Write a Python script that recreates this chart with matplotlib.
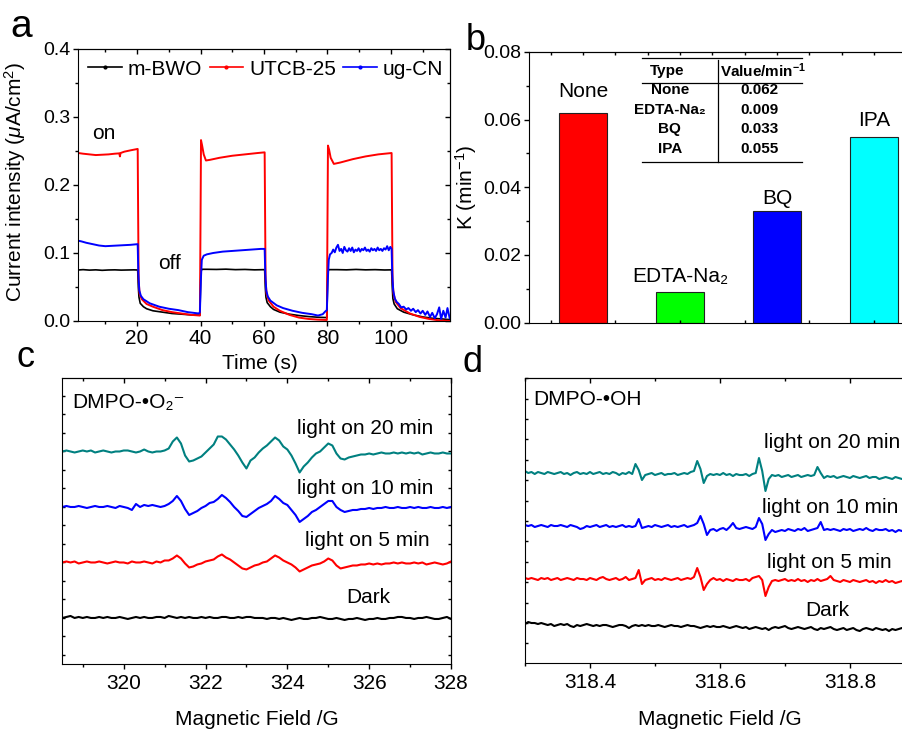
import numpy as np
import matplotlib
matplotlib.use('Agg')
import matplotlib.pyplot as plt
from matplotlib.lines import Line2D
from matplotlib.ticker import FixedLocator, MultipleLocator, FormatStrFormatter

plt.rcParams['font.family'] = ['Liberation Sans', 'DejaVu Sans']
plt.rcParams['mathtext.fontset'] = 'custom'
plt.rcParams['mathtext.rm'] = 'Liberation Sans'
plt.rcParams['mathtext.it'] = 'Liberation Sans:italic'
plt.rcParams['mathtext.bf'] = 'Liberation Sans:bold'

# ---------------- panel a: photocurrent ----------------
t_bwo = [1.5, 3, 5, 7, 9, 11, 13, 15, 17, 19, 20.2,
         20.4, 20.6, 21, 22, 23, 25, 28, 31, 34, 37, 39.8,
         40.1, 40.4, 42, 45, 48, 51, 54, 57, 60.2,
         60.4, 60.6, 61, 62, 63, 65, 68, 71, 74, 77, 79.8,
         80.1, 80.4, 83, 86, 89, 92, 95, 98, 100.2,
         100.4, 100.6, 101, 102, 104, 107, 110, 113, 116, 118.5]
i_bwo = [0.075, 0.0755, 0.0748, 0.0752, 0.0745, 0.075, 0.0752, 0.0748, 0.075, 0.0752, 0.075,
         0.05, 0.035, 0.026, 0.021, 0.018, 0.015, 0.013, 0.011, 0.010, 0.009, 0.0085,
         0.072, 0.076, 0.076, 0.0758, 0.0762, 0.0755, 0.0758, 0.0752, 0.0755,
         0.05, 0.035, 0.027, 0.021, 0.017, 0.013, 0.010, 0.008, 0.0065, 0.0055, 0.005,
         0.072, 0.0755, 0.0755, 0.0752, 0.0758, 0.0752, 0.0755, 0.075, 0.0752,
         0.05, 0.033, 0.025, 0.018, 0.013, 0.009, 0.006, 0.004, 0.003, 0.002]

t_utcb = [1.5, 3, 5, 7, 9, 11, 13, 14.4, 14.6, 14.8, 16, 18, 20.2,
          20.35, 20.5, 20.8, 21.5, 23, 25, 28, 31, 34, 37, 39.8,
          40.0, 40.15, 40.5, 41, 41.7, 43, 46, 50, 54, 58, 60.2,
          60.35, 60.5, 60.8, 61.5, 63, 65, 68, 71, 74, 77, 79.8,
          80.0, 80.15, 80.5, 81, 82, 84, 88, 92, 96, 100.2,
          100.35, 100.5, 100.8, 101.5, 103, 106, 109, 112, 115, 118.5]
i_utcb = [0.247, 0.246, 0.245, 0.244, 0.2445, 0.245, 0.246, 0.2465, 0.242, 0.247, 0.249, 0.251, 0.253,
          0.15, 0.06, 0.04, 0.032, 0.025, 0.021, 0.016, 0.013, 0.011, 0.009, 0.008,
          0.15, 0.266, 0.258, 0.245, 0.236, 0.237, 0.240, 0.243, 0.245, 0.247, 0.248,
          0.15, 0.06, 0.04, 0.03, 0.021, 0.015, 0.009, 0.005, 0.003, 0.002, 0.0015,
          0.15, 0.258, 0.252, 0.240, 0.231, 0.233, 0.238, 0.242, 0.245, 0.247,
          0.15, 0.06, 0.04, 0.028, 0.019, 0.011, 0.006, 0.003, 0.001, 0.0]

t_ugcn = [1.5, 2.5, 4, 6, 8, 10, 12, 14, 16, 18, 20.2,
          20.4, 20.7, 21.2, 22, 24, 27, 30, 33, 36, 39.5, 39.8,
          40.1, 40.4, 41, 42, 44, 47, 50, 53, 56, 59, 60.2,
          60.4, 60.7, 61.2, 62, 64, 66, 69, 72, 75, 77, 78.5, 79.3, 79.8,
          80.1, 80.4, 80.8, 81.3, 81.8, 82.3, 82.8, 83.3, 83.8, 84.3, 84.8, 85.3, 85.8,
          86.3, 86.8, 87.3, 87.8, 88.3, 88.8, 89.3, 89.8, 90.3, 90.8, 91.3, 91.8, 92.3,
          92.8, 93.3, 93.8, 94.3, 94.8, 95.3, 95.8, 96.3, 96.8, 97.3, 97.8, 98.3, 98.8,
          99.3, 99.8, 100.2,
          100.4, 100.7, 101.2, 101.8, 102.5, 103.2, 104, 104.8, 105.5, 106.3, 107, 107.8,
          108.5, 109.3, 110, 110.8, 111.5, 112.3, 113, 113.8, 114.5, 115.2, 115.8, 116.5,
          117.2, 117.8, 118.5]
i_ugcn = [0.118, 0.117, 0.115, 0.113, 0.111, 0.110, 0.1105, 0.111, 0.1115, 0.112, 0.113,
          0.07, 0.045, 0.037, 0.032, 0.026, 0.021, 0.018, 0.016, 0.013, 0.011, 0.013,
          0.06, 0.09, 0.096, 0.098, 0.100, 0.102, 0.103, 0.104, 0.105, 0.106, 0.106,
          0.07, 0.045, 0.036, 0.030, 0.023, 0.019, 0.015, 0.012, 0.010, 0.008, 0.010, 0.014, 0.016,
          0.06, 0.09, 0.098, 0.100, 0.105, 0.101, 0.108, 0.112, 0.103, 0.106, 0.100, 0.109, 0.104,
          0.102, 0.107, 0.103, 0.108, 0.101, 0.105, 0.103, 0.107, 0.102, 0.106, 0.104, 0.108, 0.103,
          0.105, 0.102, 0.107, 0.104, 0.106, 0.103, 0.108, 0.104, 0.106, 0.103, 0.107, 0.105, 0.110,
          0.104, 0.109, 0.106,
          0.07, 0.045, 0.033, 0.028, 0.025, 0.020, 0.021, 0.017, 0.019, 0.015, 0.018, 0.013,
          0.016, 0.011, 0.015, 0.009, 0.014, 0.006, 0.012, 0.004, 0.010, 0.020, 0.003, 0.015,
          0.005, 0.019, 0.004]

# ---------------- panel b: rate constants ----------------
scavengers = ['None', 'EDTA-Na₂', 'BQ', 'IPA']
k_values = [0.062, 0.009, 0.033, 0.055]
bar_colors = ['#ff0000', '#00ff00', '#0000ff', '#00ffff']

# ---------------- panel c: DMPO-O2- EPR (0.1 G steps from 318.5 G) ----------------
field_c_start, field_c_step = 318.5, 0.1
o2_20min = [0, 1, 0, -1, 0, 1, 0, 1, -1, 0,
            1, 0, -1, 0, 0, 1, 1, 0, -1, 0,
            2, 0, -1, 0, 0, 1, 3,
            10, 14, 8, -4, -10, -9, -7, -5, -1, 3, 7, 15, 15, 12, 7, 2, -4, -11, -17,
            -9, -6, -1, 3, 6, 10, 14, 11, 5, 2, -4, -12, -21, -15, -11, -6, -2, 0, 4,
            8, 6, -2, -7, -8, -6, -5,
            -4, -3, -3, -2, -3, -2, -1, -2, -2, -1,
            -2, -1, -2, -1, -2, -1, -3, -2, -1, -2, -2, -1, -2, -2]
o2_10min = [0, 1, 0, 0, 1, 0, -1, 0, 1, 0,
            0, 1, 0, -1, 1, 0, -1, -3, 3, 0,
            2, 1, 2, 1, 0, 1, 3,
            6, 11, 6, -2, -8, -6, -4, -1, 1, 4, 5, 8, 12, 9, 5, 0, -4, -9, -10,
            -7, -4, -1, 1, 3, 6, 11, 8, 4, 2, -3, -8, -15, -12, -9, -5, -3, 0, 3,
            6, 6, 0, -3, -5, -4, -3,
            -3, -2, -2, -1, -2, -1, -1, 0, -1, -1,
            0, -1, -1, 0, -1, 0, -1, -1, 0, -1, -1, 0, -1, 0]
o2_5min = [0, 1, 0, 1, -1, 0, 1, 0, 0, 1,
           0, -1, 0, 1, 0, 0, -1, 1, 0, 0,
           1, 0, -1, 1, 0, 2, 2,
           4, 7, 4, -1, -5, -4, -2, -1, 1, 2, 3, 6, 8, 5, 3, 0, -3, -6, -7,
           -5, -3, -2, 0, 1, 4, 7, 5, 2, 0, -2, -5, -9, -7, -5, -3, -2, -1, 1,
           4, 2, -3, -6, -5, -4, -3,
           -3, -2, -2, -1, -2, -1, -2, -1, -1, 0,
           -1, 0, -1, -1, 0, -1, 0, -2, -1, 0, -1, -2, -1, 1]
o2_dark = [0, 1, 2, 0, 1, 0, 1, 0, 0, 1,
           0, 1, 0, 0, 1, 0, -1, 0, 1, 0,
           1, 0, 0, 1, 1, 0, 2, 1, 0, 1,
           0, 1, 0, 0, 1, 0, 1, 0, 0, 1,
           1, 0, 0, 1, 0, 1, 1, 0, 0, 0,
           -1, 0, 0, -1, 0, -1, -2, -1, 0, -1,
           -1, 0, 0, 1, 0, -1, -1, 0, -1, -2,
           -1, -1, 0, -1, -2, -1, -1, 0, -1, -1,
           0, 0, 1, 1, 0, 0, -1, 0, 0, 1,
           0, -1, -1, 0, 1, -1]
offsets_c = [212.5, 157, 101.5, 46]

# ---------------- panel d: DMPO-OH EPR (0.005 G steps from 318.3 G) ----------------
field_d_start, field_d_step = 318.3, 0.005
oh_20min = [2, 0, 1, -1, 1, 0, -1, 1, 0, -1,
            0, 1, -1, 0, -2, 0, 1, -1, 0, -1,
            1, -1, 0, 1, -1, 0, -1, 1, 0, -2,
            0, -1, 1, -1,
            9, 3, -7, -2,
            -1, 0, -2, -1, 0, -2, -1, -1, 0, -2, -1, 0, -1, 1, 2,
            12, 4, -10, -3, -1,
            -2, -1, -2, 0, -2, -1, -3, -1, -2, -2, -1, -3, -1, 0,
            15, 2, -18, -6, -2,
            -3, -2, -4, -3, -2, -4, -3, -2, -4, -3, -2, -3, -2,
            6, 0, -5,
            -3, -4, -3, -5, -4, -3, -4, -5, -3, -4, -5, -4, -3, -5, -4, -4, -6, -5, -4, -5,
            -6, -4, -5, -6, -5, -4, -6, -5, -5, -6, -4, -5, -6, -5, -6, -5, -4, -5]
oh_10min = [1, 0, 1, -1, 0, 1, 0, -1, 1, 0,
            0, 1, 0, -1, 1, 0, -1, -3, -2, 0,
            -1, 0, 1, -1, 0, 1, -1, 0, -1, 0,
            1, -1, 0, -1, 0,
            7, -2,
            -1, 0, -1, 1, 0, -1, 0, 1, -1, 0, -1, 0, 1, -1, 0, 1, 3,
            10, 2, -9, -4,
            -3, -5, -3, -2, -4, -1, 3, -2, -3, -2, -1, -2, -3, -1,
            8, 2, -14, -8, -4,
            -6, -5, -4, -5, -3, -4, -5, -3, -4, -2, -5, -4, -3, -2,
            4, -4,
            -3, -4, -3, -4, -5, -3, -4, -3, -5, -4, -3, -4, -2, -4, -5, -3, -4, -4, -3, -5,
            -4, -6, -4, -5, -4, -3, -5, -4, -5, -6, -4, -5, -4, -5, -6, -5, -4, -5]
oh_5min = [1, 0, 1, 0, -1, 1, 0, 1, -1, 0,
           1, -1, 0, 1, 0, -1, 1, 0, 0, -1,
           1, 0, -1, 1, 2, 0, -1, 0, 1, -1,
           0, 2, -1, 0, 1,
           9, -5,
           -1, 0, 1, -1, 0, -1, 1, 0, -1, 0, 1, -1, 0, 1, 0, 2,
           11, 2, -11, -5,
           -1, 1, -1, 0, -2, 0, -1, -2, 0, -1, -1, 0, -2, 1, 2,
           3, -1, -17, -8, -2,
           -1, -2, -1, 0, -2, -1, -2, 0, -2, -1, -3, -1, -2, 0, -2, -1, 0,
           3,
           -1, -2, -3, -1, -2, -3, -1, -2, -3, -2, -1, -3, -2, -4, -2, -3, -1, -3,
           -2, -4, -3, -2, -3, -4, -2, -3, -4, -2, -3, -2, -4, -3, -2, -4, -3, -3]
oh_dark = [0, 2, 1, 1, 0, 1, 0, -1, 0, -2,
           -1, 0, -1, 0, -2, -3, -1, -2, -1, 0,
           -1, -2, -1, -2, -1, -1, -2, -3, -2, -1,
           -1, -2, -4, -2, -1, -2, -1, -2, -1, -2,
           -2, -1, -2, -3, -2, -1, -2, -2, -3, -2,
           -1, -2, -2, -3, -4, -3, -2, -3, -2, -3,
           -3, -2, -3, -4, -3, -2, -3, -4, -3, -5,
           -4, -3, -4, -5, -4, -6, -4, -3, -4, -3,
           -2, -4, -5, -4, -3, -4, -5, -4, -3, -5,
           -6, -4, -5, -4, -3, -5, -6, -5, -4, -6,
           -5, -4, -6, -7, -5, -4, -5, -6, -4, -5,
           -6, -5, -7, -5, -6, -5, -4, -6, -7, -6,
           -5, -6, -7, -6, -5, -7, -6, -5, -6, -7, -6]
offsets_d = [190, 137, 84, 39]

trace_labels = ['light on 20 min', 'light on 10 min', 'light on 5 min', 'Dark']
trace_colors = ['#008080', '#0000ff', '#ff0000', '#000000']

MAJ, MIN = 3.6, 2.2   # tick lengths (pt)


def mirror(ax, xmaj, xmin, ymaj, ymin, show_right=True):
    top = ax.secondary_xaxis('top')
    top.set_xticks(xmaj)
    top.xaxis.set_minor_locator(FixedLocator(xmin))
    top.tick_params(which='both', direction='in', labeltop=False, width=1.0)
    top.tick_params(which='major', length=MAJ)
    top.tick_params(which='minor', length=MIN)
    if show_right:
        right = ax.secondary_yaxis('right')
        right.set_yticks(ymaj)
        right.yaxis.set_minor_locator(FixedLocator(ymin))
        right.tick_params(which='both', direction='in', labelright=False, width=1.0)
        right.tick_params(which='major', length=MAJ)
        right.tick_params(which='minor', length=MIN)


fig = plt.figure(figsize=(9.02, 7.31), dpi=100)

# ---- a ----
ax = fig.add_axes([0.0865, 0.5609, 0.4124, 0.3721])
ax.plot(t_bwo, i_bwo, color='black', lw=1.2)
ax.plot(t_utcb, i_utcb, color='#ff0000', lw=1.4)
ax.plot(t_ugcn, i_ugcn, color='#0000ff', lw=1.4)
ax.set_xlim(1.4, 118.6)
ax.set_ylim(0, 0.4)
ax.set_xticks([20, 40, 60, 80, 100])
ax.xaxis.set_minor_locator(MultipleLocator(10))
ax.set_yticks([0.0, 0.1, 0.2, 0.3, 0.4])
ax.yaxis.set_minor_locator(MultipleLocator(0.05))
ax.yaxis.set_major_formatter(FormatStrFormatter('%.1f'))
ax.tick_params(which='both', direction='out', width=1.0)
ax.tick_params(which='major', length=MAJ, pad=2)
ax.tick_params(which='minor', length=MIN)
ax.tick_params(axis='x', labelsize=15)
ax.tick_params(axis='y', labelsize=14)
mirror(ax, [20, 40, 60, 80, 100], list(range(10, 120, 10)),
       [0.0, 0.1, 0.2, 0.3, 0.4], [0.05, 0.15, 0.25, 0.35])
ax.set_xlabel('Time (s)', fontsize=15)
ax.xaxis.set_label_coords(0.489, -0.12)
ax.set_ylabel(r'Current intensity ($\mu$A/cm$^2$)', fontsize=15)
ax.yaxis.set_label_coords(-0.135, 0.51)
handles = [Line2D([], [], color=c, lw=1.2, marker='.', markersize=4)
           for c in ['black', '#ff0000', '#0000ff']]
ax.legend(handles, ['m-BWO', 'UTCB-25', 'ug-CN'], loc='center left',
          bbox_to_anchor=(0.022, 0.926), ncol=3, frameon=False, fontsize=15,
          handlelength=1.6, handletextpad=0.3, columnspacing=0.35, borderpad=0.1,
          borderaxespad=0)
ax.text(0.070, 0.691, 'on', transform=ax.transAxes, fontsize=15, ha='center', va='center')
ax.text(0.247, 0.213, 'off', transform=ax.transAxes, fontsize=15, ha='center', va='center')

# ---- b ----
bx = fig.add_axes([0.5865, 0.5586, 0.4435, 0.3703])
pos = np.arange(1, len(k_values) + 1)
bx.bar(pos, k_values, width=0.5, color=bar_colors, edgecolor='#222222', lw=0.8)
label_gap = [0.0046, 0.0031, 0.0021, 0.0030]
for p, v, name, g in zip(pos, k_values, scavengers, label_gap):
    bx.text(p, v + g, name, ha='center', va='baseline', fontsize=15)
bx.set_xlim(0.443, 4.567)
bx.set_ylim(0, 0.08)
bx.set_xticks(np.arange(2, 14, 2) / 3)
bx.set_xticklabels([])
bx.set_yticks([0.0, 0.02, 0.04, 0.06, 0.08])
bx.yaxis.set_minor_locator(MultipleLocator(0.01))
bx.yaxis.set_major_formatter(FormatStrFormatter('%.2f'))
bx.tick_params(axis='x', which='both', direction='in', length=MIN, width=1.0)
bx.tick_params(axis='y', which='both', direction='out', width=1.0, labelsize=14)
bx.tick_params(axis='y', which='major', length=MAJ, pad=2)
bx.tick_params(axis='y', which='minor', length=MIN)
mirror(bx, [], list(np.arange(2, 14) / 3), [], [], show_right=False)
bx.set_ylabel(r'K (min$^{-1}$)', fontsize=15)
bx.yaxis.set_label_coords(-0.125, 0.5)

# inset table
tk = dict(transform=bx.transAxes, fontsize=11, fontweight='bold', va='center')
bx.text(0.344, 0.931, 'Type', ha='center', **tk)
bx.text(0.4775, 0.931, r'Value/min$^{\mathbf{-1}}$', ha='left', **tk)
row_y = [0.860, 0.787, 0.7156, 0.6417]
for name, v, y in zip(scavengers, k_values, row_y):
    bx.text(0.352, y, name, ha='center', **tk)
    bx.text(0.575, y, f'{v:.3f}', ha='center', **tk)
for y in (0.979, 0.8866, 0.5948):
    bx.plot([0.2818, 0.6818], [y, y], transform=bx.transAxes, color='black', lw=0.9)
bx.plot([0.4733, 0.4733], [0.9704, 0.5948], transform=bx.transAxes, color='black', lw=0.9)

# ---- c & d ----
def epr_panel(rect, start, step, traces, offsets, xlim, ylim, xmaj, xmin, yt, fmt):
    e = fig.add_axes(rect)
    for tr, off, col in zip(traces, offsets, trace_colors):
        field = start + step * np.arange(len(tr))
        e.plot(field, np.array(tr) + off, color=col, lw=1.5)
    e.set_xlim(*xlim)
    e.set_ylim(*ylim)
    e.set_xticks(xmaj)
    e.xaxis.set_minor_locator(FixedLocator(xmin))
    e.xaxis.set_major_formatter(FormatStrFormatter(fmt))
    e.set_yticks([])
    e.yaxis.set_minor_locator(FixedLocator(yt))
    e.tick_params(axis='x', which='both', direction='out', width=1.0, labelsize=15)
    e.tick_params(axis='x', which='major', length=MAJ, pad=3.4)
    e.tick_params(axis='x', which='minor', length=MIN)
    e.tick_params(axis='y', which='minor', direction='in', length=MIN, width=1.0)
    mirror(e, xmaj, xmin, [], yt)
    e.set_xlabel('Magnetic Field /G', fontsize=15)
    return e

cx = epr_panel([0.0691, 0.0917, 0.4309, 0.3912], field_c_start, field_c_step,
               [o2_20min, o2_10min, o2_5min, o2_dark], offsets_c,
               (318.5, 328.0), (0, 286), [320, 322, 324, 326, 328],
               [319, 321, 323, 325, 327], np.arange(9, 286, 18.5), '%d')
cx.xaxis.set_label_coords(0.5, -0.161)
cx.text(0.025, 0.914, 'DMPO-•O₂⁻', transform=cx.transAxes, fontsize=15, va='center')
for lab, (x, y) in zip(trace_labels, [(0.779, 0.825), (0.779, 0.612), (0.784, 0.431), (0.787, 0.231)]):
    cx.text(x, y, lab, transform=cx.transAxes, fontsize=15, ha='center', va='center')

dx = epr_panel([0.5820, 0.0930, 0.4684, 0.3899], field_d_start, field_d_step,
               [oh_20min, oh_10min, oh_5min, oh_dark], offsets_d,
               (318.3, 318.95), (0, 285), [318.4, 318.6, 318.8],
               [318.3, 318.5, 318.7, 318.9], np.arange(19.7, 285, 20.4), '%.1f')
dx.xaxis.set_label_coords(0.4615, -0.165)
dx.text(0.019, 0.926, 'DMPO-•OH', transform=dx.transAxes, fontsize=15, va='center')
for lab, (x, y) in zip(trace_labels, [(0.566, 0.773), (0.561, 0.545), (0.573, 0.352), (0.664, 0.1835)]):
    dx.text(x, y, lab, transform=dx.transAxes, fontsize=15, ha='left', va='center')

# panel letters
fig.text(10 / 902, 1 - 37 / 731, 'a', fontsize=28, va='baseline')
fig.text(466 / 902, 1 - 50 / 731, 'b', fontsize=26, va='baseline')
fig.text(17 / 902, 1 - 367 / 731, 'c', fontsize=26, va='baseline')
fig.text(463 / 902, 1 - 372 / 731, 'd', fontsize=26, va='baseline')

fig.savefig('out.png', dpi=100)
